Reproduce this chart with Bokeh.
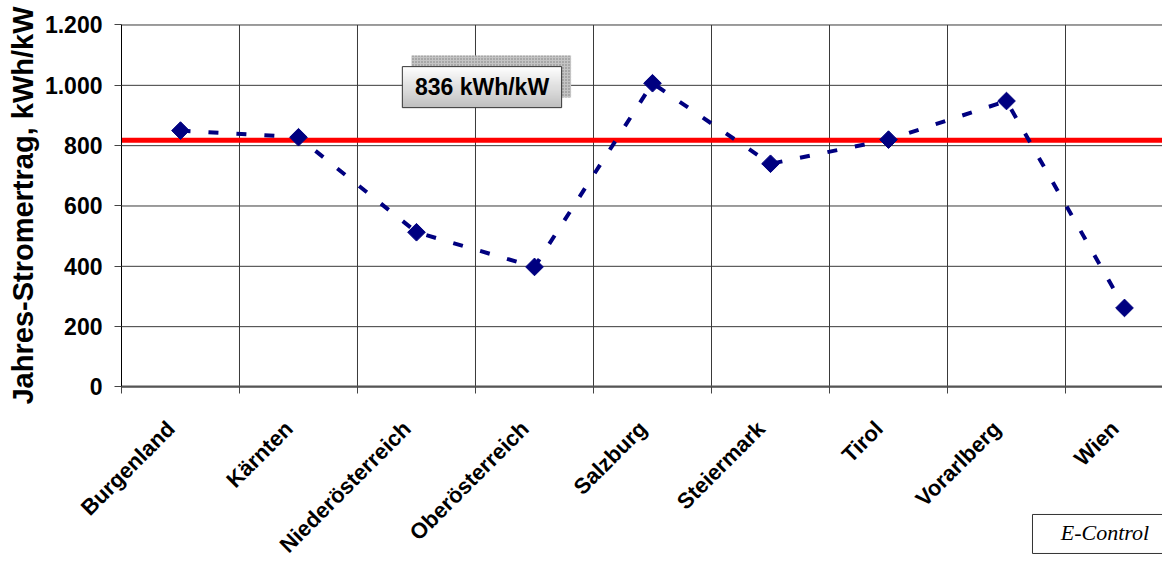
import numpy as np
from bokeh.plotting import figure
from bokeh.models import FixedTicker, Label, Range1d, BoxAnnotation
from bokeh.core.properties import value
from bokeh.embed import file_html
from bokeh.resources import INLINE
from math import pi

# ---- data ----
categories = ["Burgenland", "Kärnten", "Niederösterreich", "Oberösterreich",
              "Salzburg", "Steiermark", "Tirol", "Vorarlberg", "Wien"]
yield_kwh_per_kw = [850, 828, 513, 398, 1007, 740, 820, 948, 262]
reference_line = 818
reference_label = "836 kWh/kW"
y_ticks = [0, 200, 400, 600, 800, 1000, 1200]
y_tick_labels = ["0", "200", "400", "600", "800", "1.000", "1.200"]
source_label = "E-Control"

FONT = "Liberation Sans"

xs = list(range(len(categories)))
boundaries = [i - 0.5 for i in range(len(categories) + 1)]
x_left = boundaries[0]
x_end = 8.322           # visible right edge of the plotting area
y_lo, y_hi = y_ticks[0], y_ticks[-1]
label_shift = -0.08     # small horizontal nudge of the rotated category labels
label_pos = [x + label_shift for x in xs]

p = figure(frame_width=1162, frame_height=556, output_backend="svg",
           toolbar_location=None,
           x_range=Range1d(-1.5254, x_end), y_range=Range1d(-561.9, 1281.2),
           min_border=0)
p.outline_line_color = None
p.background_fill_color = "white"
p.border_fill_color = "white"
p.xgrid.visible = False
p.ygrid.visible = False

# grid lines limited to the plotting area
nb = len(boundaries) - 1
p.segment(x0=boundaries[1:], y0=[y_lo] * nb, x1=boundaries[1:], y1=[y_hi] * nb,
          line_color="#3a3a3a", line_width=1)
p.segment(x0=[x_left] * len(y_ticks), y0=y_ticks, x1=[x_end] * len(y_ticks),
          y1=y_ticks, line_color="#3a3a3a", line_width=1)

# x axis pinned at y = 0
p.xaxis.fixed_location = 0
p.xaxis.bounds = (x_left, x_end)
p.xaxis.ticker = FixedTicker(ticks=label_pos, minor_ticks=boundaries)
p.xaxis.major_label_overrides = {x: c for x, c in zip(label_pos, categories)}
p.xaxis.major_label_orientation = pi / 4
p.xaxis.major_tick_line_color = None
p.xaxis.major_tick_in = 0
p.xaxis.major_tick_out = 0
p.xaxis.minor_tick_line_color = "#444444"
p.xaxis.minor_tick_in = 0
p.xaxis.minor_tick_out = 7
p.xaxis.axis_line_color = "#555555"
p.xaxis.axis_line_width = 2
p.xaxis.major_label_text_font = FONT
p.xaxis.major_label_text_font_style = "bold"
p.xaxis.major_label_text_font_size = "22px"
p.xaxis.major_label_text_color = "black"
p.xaxis.major_label_standoff = 31

# y axis pinned at the left category boundary
p.yaxis.fixed_location = x_left
p.yaxis.bounds = (y_lo, y_hi)
p.yaxis.ticker = FixedTicker(ticks=y_ticks)
p.yaxis.major_label_overrides = {t: l for t, l in zip(y_ticks, y_tick_labels)}
p.yaxis.minor_tick_line_color = None
p.yaxis.major_tick_in = 0
p.yaxis.major_tick_out = 7
p.yaxis.major_tick_line_color = "#444444"
p.yaxis.axis_line_color = "black"
p.yaxis.major_label_text_font = FONT
p.yaxis.major_label_text_font_style = "bold"
p.yaxis.major_label_text_font_size = "23px"
p.yaxis.major_label_text_color = "black"
p.yaxis.major_label_standoff = 12
p.yaxis.axis_label = "Jahres-Stromertrag, kWh/kW"
p.yaxis.axis_label_text_font = FONT
p.yaxis.axis_label_text_font_style = "bold"
p.yaxis.axis_label_text_font_size = "29px"
p.yaxis.axis_label_text_color = "black"
p.yaxis.axis_label_standoff = 3

# annotation box with shadow (data coordinates of the box)
p.quad(left=[1.957], right=[3.31], bottom=[960], top=[1099],
       fill_color="#c4c4c4", line_color=None,
       hatch_pattern="dot", hatch_color="#7a7a7a", hatch_scale=3, hatch_weight=1)
n = 40
grad = np.zeros((n, 1), dtype=np.uint32)
view = grad.view(dtype=np.uint8).reshape((n, 1, 4))
for i in range(n):
    g = int(192 + (255 - 192) * i / (n - 1))
    view[i, 0, :] = [g, g, g, 255]
p.image_rgba(image=[grad], x=1.88, y=926, dw=1.35, dh=136)
p.quad(left=[1.88], right=[3.23], bottom=[926], top=[1062],
       fill_color=None, line_color="#333333", line_width=1)
p.text(x=[2.555], y=[994], text=[reference_label], text_font=value(FONT),
       text_font_style="bold", text_font_size="23px", text_color="black",
       text_align="center", text_baseline="middle")

# reference line across the plotting area
p.line([x_left, x_end], [reference_line, reference_line],
       line_color="#ff0000", line_width=5)

# series
p.line(xs, yield_kwh_per_kw, line_color="#000080", line_width=4,
       line_dash="10 18")
p.scatter(xs, yield_kwh_per_kw, marker="square", angle=pi / 4, size=12.5,
          fill_color="#000080", line_color="#000080")

# source box
p.add_layout(BoxAnnotation(left=7.2203, right=8.6, top=-422.6, bottom=-551.9,
                           fill_color="white", fill_alpha=1.0,
                           line_color="#333333", line_width=1, line_alpha=1.0))
p.add_layout(Label(x=7.8347, y=-482.3, text=source_label,
                   text_font="Liberation Serif", text_font_style="italic",
                   text_font_size="22px", text_color="black",
                   text_align="center", text_baseline="middle"))

open("out.html", "w").write(file_html(p, INLINE))
